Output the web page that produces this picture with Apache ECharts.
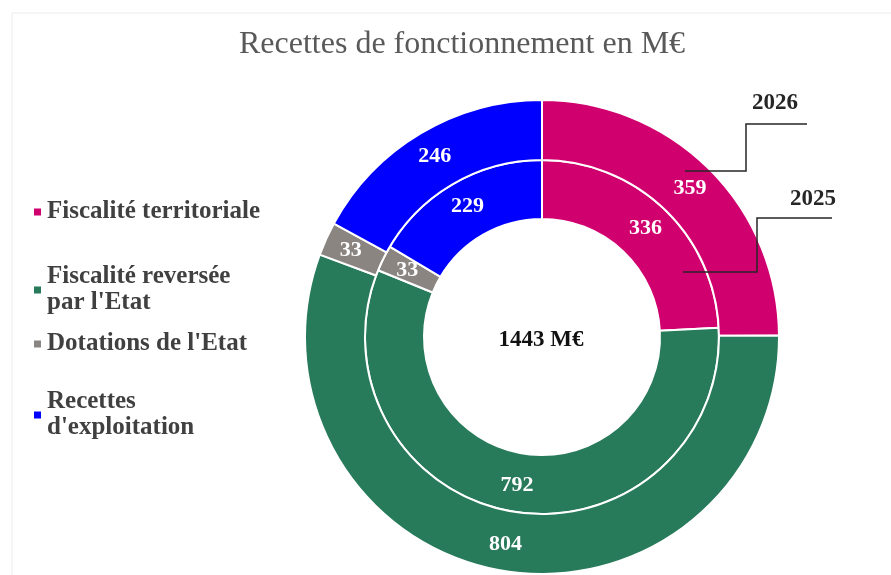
<!DOCTYPE html>
<html>
<head>
<meta charset="utf-8">
<script src="https://cdn.jsdelivr.net/npm/echarts@6/dist/echarts.min.js"></script>
<style>
  html, body { margin: 0; padding: 0; background: #fff; }
  #main { width: 891px; height: 575px; }
</style>
</head>
<body>
<div id="main"></div>
<script>
// categories and values (M€)
var categories = ['Fiscalité territoriale', "Fiscalité reversée\npar l'Etat", "Dotations de l'Etat", "Recettes\nd'exploitation"];
var values2025 = [336, 792, 33, 229];
var values2026 = [359, 804, 33, 246];
var colors = ['#D1006F', '#277A5A', '#8A8580', '#0000FF'];
var totalLabel = '1443 M€';

var serif = '"Liberation Serif", "DejaVu Serif", serif';

function toData(vals) {
	return vals.map(function (v, i) {
		return { name: categories[i], value: v, itemStyle: { color: colors[i] } };
	});
}

// one legend per item, so each can sit at its own height
var legendTops = [194, 259, 326, 384];
var legends = categories.map(function (c, i) {
	return {
		orient: 'vertical',
		left: 27,
		top: legendTops[i],
		icon: 'rect',
		itemWidth: 9,
		itemHeight: 9,
		itemGap: 0,
		data: [c],
		textStyle: {
			fontFamily: serif,
			fontSize: 25,
			fontWeight: 'bold',
			color: '#404040',
			lineHeight: 26
		}
	};
});

var sliceLabel = {
	show: true,
	position: 'inside',
	formatter: '{c}',
	color: '#fff',
	fontFamily: serif,
	fontSize: 22,
	fontWeight: 'bold'
};

var chart = echarts.init(document.getElementById('main'));
chart.setOption({
	backgroundColor: '#fff',
	animation: false,
	title: {
		text: 'Recettes de fonctionnement en M€',
		left: 234,
		top: 24,
		textStyle: { fontFamily: serif, fontSize: 32, fontWeight: 'normal', color: '#595959' }
	},
	legend: legends,
	series: [
		{
			name: '2025',
			type: 'pie',
			center: [542, 337],
			radius: [118, 177],
			startAngle: 90,
			clockwise: true,
			label: sliceLabel,
			labelLine: { show: false },
			itemStyle: { borderColor: '#fff', borderWidth: 2 },
			emphasis: { disabled: true },
			data: toData(values2025)
		},
		{
			name: '2026',
			type: 'pie',
			center: [542, 337],
			radius: [177, 237],
			startAngle: 90,
			clockwise: true,
			label: sliceLabel,
			labelLine: { show: false },
			itemStyle: { borderColor: '#fff', borderWidth: 2 },
			emphasis: { disabled: true },
			data: toData(values2026)
		}
	],
	graphic: [
		{
			type: 'text',
			x: 541, y: 340,
			z: 100,
			style: {
				text: totalLabel, fontFamily: serif, fontSize: 23, fontWeight: 'bold',
				fill: '#111', align: 'center', verticalAlign: 'middle'
			}
		},
		// callouts for the rings
		{
			type: 'text',
			x: 775, y: 103,
			z: 100,
			style: { text: '2026', fontFamily: serif, fontSize: 23, fontWeight: 'bold', fill: '#262626', align: 'center', verticalAlign: 'middle' }
		},
		{
			type: 'polyline',
			z: 100,
			shape: { points: [[685, 171], [746, 171], [746, 124], [807, 124]] },
			style: { stroke: '#262626', lineWidth: 1.5, fill: null }
		},
		{
			type: 'text',
			x: 813, y: 199,
			z: 100,
			style: { text: '2025', fontFamily: serif, fontSize: 23, fontWeight: 'bold', fill: '#262626', align: 'center', verticalAlign: 'middle' }
		},
		{
			type: 'polyline',
			z: 100,
			shape: { points: [[683, 272], [757, 272], [757, 218], [832, 218]] },
			style: { stroke: '#262626', lineWidth: 1.5, fill: null }
		},
		// faint frame of the original picture
		{
			type: 'rect',
			z: 0,
			shape: { x: 12, y: 13, width: 890, height: 570 },
			style: { stroke: '#ececec', lineWidth: 1, fill: null }
		}
	]
});
</script>
</body>
</html>
